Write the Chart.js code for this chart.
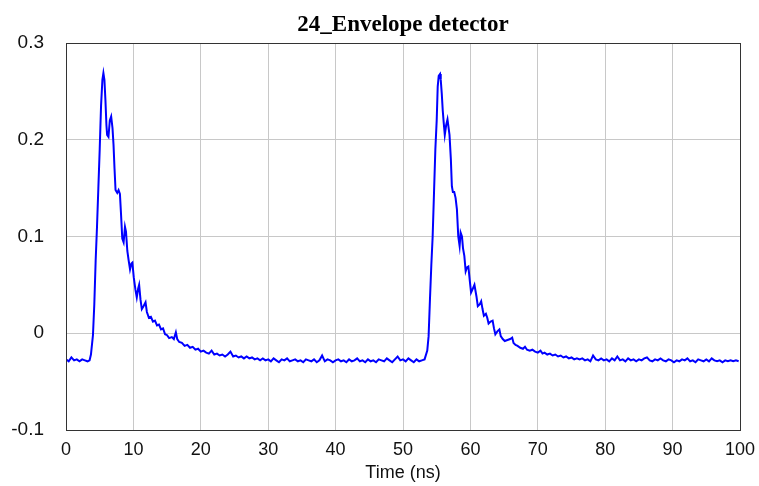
<!DOCTYPE html>
<html>
<head>
<meta charset="utf-8">
<script src="https://cdn.jsdelivr.net/npm/chart.js@4/dist/chart.umd.min.js"></script>
<style>
  html, body { margin: 0; padding: 0; background: #fff; }
  #wrap { width: 759px; height: 486px; position: relative; }
</style>
</head>
<body>
<div id="wrap"><canvas id="chart1"></canvas></div>
<script>
// chart text
const chartTitle = '24_Envelope detector';
const xTitle = 'Time (ns)';

// axis ticks
const xTicks = [0, 10, 20, 30, 40, 50, 60, 70, 80, 90, 100];
const yTicks = [-0.1, 0, 0.1, 0.2, 0.3];

// time (ns) of each sample
const timeNs = [
  // flat start
  0, 0.4, 0.8, 1.2, 1.6, 2.0, 2.4, 2.8, 3.2, 3.5,
  // first pulse
  3.7, 4.0, 4.2, 4.4, 4.6, 4.8, 5.0, 5.2, 5.4, 5.55, 5.7, 5.85, 6.0, 6.1, 6.3, 6.5, 6.7, 6.9,
  7.05, 7.2, 7.35, 7.6, 7.8, 8.0, 8.15, 8.35, 8.55, 8.75, 8.9, 9.1, 9.3, 9.5, 9.7, 9.85,
  10.05, 10.3, 10.5, 10.7, 10.85, 11.05, 11.25, 11.5, 11.8, 12.0, 12.3, 12.6, 12.9, 13.2,
  13.5, 13.8, 14.1, 14.4, 14.7, 15.0, 15.3, 15.7, 16.0, 16.3, 16.5, 16.8, 17.2, 17.6, 18.0,
  18.4, 18.8, 19.2, 19.6, 20.0, 20.4, 20.8, 21.2, 21.6, 22.0, 22.4, 22.8, 23.2, 23.6, 24.0,
  24.4, 24.8, 25.2, 25.6, 26.0, 26.4, 26.8, 27.2, 27.6, 28.0, 28.4, 28.8, 29.2, 29.6,
  // flat between pulses
  30.0, 30.4, 30.8, 31.2, 31.6, 32.0, 32.4, 32.8, 33.2, 33.6, 34.0, 34.4, 34.8, 35.2, 35.6,
  36.0, 36.4, 36.8, 37.2, 37.6, 38.0, 38.4, 38.8, 39.2, 39.6, 40.0, 40.4, 40.8, 41.2, 41.6,
  42.0, 42.4, 42.8, 43.2, 43.6, 44.0, 44.4, 44.8, 45.2, 45.6, 46.0, 46.4, 46.8, 47.2, 47.6,
  48.0, 48.4, 48.8, 49.2, 49.6, 50.0, 50.4, 50.8, 51.2, 51.6, 52.0, 52.4, 52.8, 53.2,
  // second pulse
  53.6, 53.8, 54.0, 54.2, 54.4, 54.6, 54.8, 55.0, 55.15, 55.3, 55.5, 55.6, 55.75, 55.9,
  56.05, 56.2, 56.4, 56.6, 56.9, 57.1, 57.25, 57.4, 57.6, 57.8, 58.0, 58.2, 58.4, 58.55,
  58.75, 58.9, 59.1, 59.3, 59.5, 59.7, 59.9, 60.1, 60.3, 60.6, 60.9, 61.1, 61.4, 61.6, 61.8,
  62.0, 62.3, 62.5, 62.7, 63.0, 63.3, 63.5, 63.7, 64.0, 64.3, 64.5, 64.8, 65.1, 65.5, 65.9,
  66.2, 66.4, 66.7, 67.0, 67.4, 67.8, 68.1, 68.4, 68.8, 69.2, 69.6, 70.0, 70.4, 70.7, 71.0,
  71.4, 71.8, 72.2, 72.6, 73.0, 73.4, 73.8, 74.2, 74.6, 75.0, 75.4, 75.8, 76.2,
  // flat end
  76.6, 77.0, 77.4, 77.8, 78.2, 78.6, 79.0, 79.4, 79.8, 80.2, 80.6, 81.0, 81.4, 81.8, 82.2,
  82.6, 83.0, 83.4, 83.8, 84.2, 84.6, 85.0, 85.4, 85.8, 86.2, 86.6, 87.0, 87.4, 87.8, 88.2,
  88.6, 89.0, 89.4, 89.8, 90.2, 90.6, 91.0, 91.4, 91.8, 92.2, 92.6, 93.0, 93.4, 93.8, 94.2,
  94.6, 95.0, 95.4, 95.8, 96.2, 96.6, 97.0, 97.4, 97.8, 98.2, 98.6, 99.0, 99.4, 99.8, 100
];

// detector output (V) at each time above
const envelopeV = [
  -0.027, -0.029, -0.025, -0.028, -0.027, -0.029, -0.027, -0.028, -0.029, -0.028,

  -0.022, -0.002, 0.03, 0.075, 0.11, 0.15, 0.19, 0.235, 0.262, 0.269, 0.262, 0.241, 0.215, 0.205, 0.203, 0.22, 0.224, 0.212,
  0.195, 0.17, 0.148, 0.145, 0.148, 0.144, 0.125, 0.098, 0.094, 0.11, 0.105, 0.085, 0.075, 0.066, 0.072, 0.073,
  0.058, 0.045, 0.037, 0.046, 0.05, 0.035, 0.025, 0.028, 0.032, 0.022, 0.016, 0.017, 0.012, 0.013,
  0.008, 0.009, 0.004, 0.005, -0.001, -0.002, -0.005, -0.004, -0.006, 0.001, -0.006, -0.009, -0.010, -0.013, -0.012,
  -0.015, -0.014, -0.017, -0.016, -0.019, -0.018, -0.020, -0.021, -0.018, -0.022, -0.021, -0.023, -0.022, -0.024, -0.022,
  -0.019, -0.024, -0.023, -0.025, -0.024, -0.026, -0.024, -0.026, -0.025, -0.027, -0.026, -0.028, -0.026, -0.028,

  -0.027, -0.029, -0.026, -0.028, -0.030, -0.027, -0.028, -0.026, -0.029, -0.028, -0.027, -0.029, -0.028, -0.030, -0.027,
  -0.028, -0.029, -0.027, -0.030, -0.028, -0.023, -0.029, -0.027, -0.028, -0.030, -0.028, -0.027, -0.029, -0.028, -0.030,
  -0.027, -0.029, -0.028, -0.026, -0.029, -0.028, -0.030, -0.027, -0.029, -0.028, -0.030, -0.027, -0.028, -0.029, -0.026,
  -0.028, -0.030, -0.027, -0.024, -0.028, -0.027, -0.029, -0.026, -0.028, -0.030, -0.027, -0.029, -0.028,

  -0.027, -0.018, -0.003, 0.035, 0.07, 0.1, 0.145, 0.19, 0.22, 0.255, 0.266, 0.268, 0.262, 0.248,
  0.23, 0.217, 0.205, 0.215, 0.221, 0.205, 0.18, 0.152, 0.146, 0.146, 0.14, 0.128, 0.1, 0.09,
  0.104, 0.1, 0.088, 0.08, 0.064, 0.068, 0.069, 0.055, 0.042, 0.045, 0.05, 0.038, 0.028, 0.03, 0.033,
  0.025, 0.018, 0.02, 0.016, 0.01, 0.012, 0.013, 0.005, -0.001, 0.002, 0.004, -0.003, -0.006, -0.008, -0.007,
  -0.006, -0.0045, -0.01, -0.012, -0.013, -0.015, -0.016, -0.014, -0.017, -0.018, -0.017, -0.019, -0.020, -0.018, -0.021,
  -0.020, -0.022, -0.021, -0.023, -0.022, -0.024, -0.023, -0.025, -0.024, -0.026, -0.025, -0.027, -0.026,

  -0.027, -0.026, -0.028, -0.027, -0.029, -0.023, -0.027, -0.028, -0.026, -0.028, -0.027, -0.029, -0.026, -0.028, -0.024,
  -0.028, -0.027, -0.029, -0.026, -0.028, -0.027, -0.029, -0.027, -0.028, -0.026, -0.025, -0.028, -0.029, -0.027, -0.028,
  -0.026, -0.028, -0.029, -0.027, -0.028, -0.030, -0.028, -0.029, -0.027, -0.028, -0.026, -0.029, -0.028, -0.030, -0.027,
  -0.028, -0.029, -0.027, -0.029, -0.026, -0.028, -0.029, -0.028, -0.030, -0.028, -0.029, -0.028, -0.029, -0.028, -0.029
];

// build points
let points = [];
for (let i = 0; i < timeNs.length; i++) {
  points.push({ x: timeNs[i], y: envelopeV[i] });
}

// frame around the plot area + title centred over the plot
const frameBox = {
  id: 'frameBox',
  afterDraw(chart) {
    const a = chart.chartArea;
    const ctx = chart.ctx;
    ctx.save();
    ctx.strokeStyle = '#333';
    ctx.lineWidth = 1;
    ctx.strokeRect(Math.round(a.left) + 0.5, Math.round(a.top) + 0.5,
      Math.round(a.right - a.left), Math.round(a.bottom - a.top));
    ctx.fillStyle = '#000';
    ctx.font = 'bold 23px "Liberation Serif", "Times New Roman", serif';
    ctx.textAlign = 'center';
    ctx.textBaseline = 'alphabetic';
    ctx.fillText(chartTitle, (a.left + a.right) / 2, 31);
    ctx.restore();
  }
};

const tickFont = { family: '"Liberation Sans", Arial, sans-serif', size: 18 };
const yTickFont = { family: '"Liberation Sans", Arial, sans-serif', size: 19 };

const config = {
  type: 'line',
  data: {
    datasets: [{
      label: 'envelope',
      data: points,
      borderColor: '#0000ff',
      backgroundColor: '#0000ff',
      borderWidth: 2,
      pointRadius: 0,
      tension: 0
    }]
  },
  options: {
    responsive: true,
    maintainAspectRatio: false,
    animation: false,
    layout: { padding: { left: 0, right: 19, top: 43, bottom: 0 } },
    plugins: {
      legend: { display: false },
      tooltip: { enabled: false },
      title: { display: false }
    },
    scales: {
      x: {
        type: 'linear',
        min: 0,
        max: 100,
        afterBuildTicks: s => { s.ticks = xTicks.map(v => ({ value: v })); },
        afterFit: s => { s.height = 56; s.paddingLeft = 0; s.paddingRight = 0; },
        ticks: { color: '#111', font: tickFont, padding: 9, maxRotation: 0 },
        grid: { color: '#c8c8c8', drawTicks: false },
        border: { color: '#333' },
        title: { display: true, text: xTitle, color: '#111', font: tickFont, padding: { top: 0, bottom: 2 } }
      },
      y: {
        min: -0.1,
        max: 0.3,
        afterBuildTicks: s => { s.ticks = yTicks.map(v => ({ value: v })); },
        afterFit: s => { s.width = 66; s.paddingTop = 0; s.paddingBottom = 0; },
        ticks: { color: '#111', font: yTickFont, padding: 22, callback: v => +v.toFixed(1) },
        grid: { color: '#c8c8c8', drawTicks: false },
        border: { color: '#333' }
      }
    }
  },
  plugins: [frameBox]
};

const myChart = new Chart(document.getElementById('chart1'), config);
</script>
</body>
</html>
